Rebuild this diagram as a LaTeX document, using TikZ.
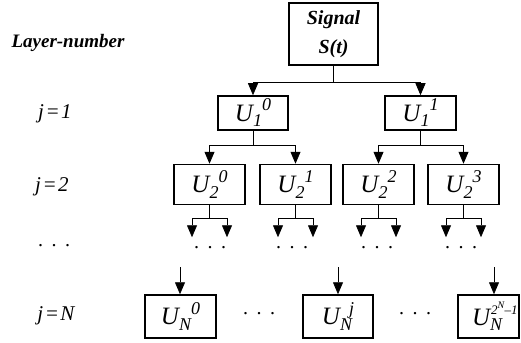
\documentclass[tikz,border=0pt]{standalone}
\usepackage{fontspec}
\setmainfont{Liberation Serif}
\usetikzlibrary{arrows.meta,calc}
\newcommand\bigU{\fontsize{25}{25}\selectfont\itshape U}
\newcommand\smallsz{\fontsize{18}{18}\selectfont\itshape}
% U with subscript then superscript to its right
\newcommand\Ucell[2]{{\bigU\raisebox{-0.22em}{\smallsz #1}\raisebox{0.42em}{\smallsz #2}}}
\newcommand\jlab[1]{{\fontsize{21}{21}\selectfont\itshape j\kern1.5pt=\kern1.5pt#1}}
\newcommand\tdots{{\fontsize{20}{20}\selectfont .\hspace{8.5pt}.\hspace{8.5pt}.}}
\begin{document}
\begin{tikzpicture}[x=1pt,y=-1pt,
  box/.style={draw, line width=1.5pt, inner sep=0pt, minimum width=71pt, minimum height=40pt},
  conn/.style={line width=0.8pt},
  arr/.style={conn, -{Triangle[length=12pt,width=10pt]}},
  lab/.style={inner sep=0pt}]
\useasboundingbox (0,0) rectangle (521,342);
% left labels
\node[lab] (ln) at (68,43) {\fontsize{19}{19}\selectfont\bfseries\itshape Layer-number};
\node[lab] (j1) at (55,114) {\jlab{1}};
\node[lab] (j2) at (52,187) {\jlab{2}};
\node[lab] (jd) at (54,246) {\tdots};
\node[lab] (jN) at (56,316) {\jlab{N}};
% boxes
\node[box, minimum width=89pt, minimum height=62pt, align=center,
      font=\fontsize{20}{29}\selectfont\bfseries\itshape] (sig) at (333.5,34) {Signal\\S(t)};
\node[box, minimum width=70pt, minimum height=34pt] (u10) at (253,113) {\Ucell{1}{0}};
\node[box, minimum width=71pt, minimum height=34pt] (u11) at (420.5,113) {\Ucell{1}{1}};
\node[box] (u20) at (209.5,184.5) {\Ucell{2}{0}};
\node[box] (u21) at (295.5,184.5) {\Ucell{2}{1}};
\node[box] (u22) at (378.5,184.5) {\Ucell{2}{2}};
\node[box] (u23) at (463.5,184.5) {\Ucell{2}{3}};
\node[box, minimum height=43pt] (uN0) at (180.5,316.5) {\Ucell{N}{0}};
\node[box, minimum height=43pt, minimum width=70pt] (uNj) at (338,316.5)
  {{\bigU\raisebox{-0.22em}{\smallsz N}\kern-3pt\raisebox{0.42em}{\smallsz j}}};
\node[box, minimum height=43pt, minimum width=61pt] (uNl) at (488.5,316.5)
  {\makebox[57pt][l]{\hspace{12pt}{\bigU\raisebox{-0.22em}{\smallsz N}\kern-11pt\raisebox{0.45em}{\fontsize{13}{13}\selectfont 2\raisebox{0.4em}{\fontsize{10}{10}\selectfont\itshape N}\kern0.5pt–1}}}};
% level 1 connectors
\draw[arr] (sig.south) -- ++(0,17) -| (u10.north);
\draw[arr] (sig.south) -- ++(0,17) -| (u11.north);
% level 2 connectors
\draw[arr] (u10.south) -- ++(0,15) -| (u20.north);
\draw[arr] (u10.south) -- ++(0,15) -| (u21.north);
\draw[arr] (u11.south) -- ++(0,15) -| (u22.north);
\draw[arr] (u11.south) -- ++(0,15) -| (u23.north);
% level 3 stubs
\foreach \b in {u20,u21,u22,u23}{
  \coordinate (\b-m) at ($(\b.south)+(0,13)$);
  \coordinate (\b-l) at ($(\b-m)+(-17.5,0)$);
  \coordinate (\b-r) at ($(\b-m)+(17.5,0)$);
  \coordinate (\b-lt) at ($(\b-l)+(0,19)$);
  \coordinate (\b-rt) at ($(\b-r)+(0,19)$);
  \draw[conn] (\b.south) -- (\b-m);
  \draw[arr] (\b-m) -| (\b-lt);
  \draw[arr] (\b-m) -| (\b-rt);
}
% dots under level 2
\node[lab] (d0) at (210,248) {\tdots};
\node[lab] (d1) at (292,248) {\tdots};
\node[lab] (d2) at (377,248) {\tdots};
\node[lab] (d3) at (461,248) {\tdots};
% bottom arrows
\coordinate (a0) at (180,267);
\coordinate (aj) at (338,267);
\coordinate (al) at (494,267);
\draw[arr] (a0) -- (a0 |- uN0.north);
\draw[arr] (aj) -- (aj |- uNj.north);
\draw[arr] (al) -- (al |- uNl.north);
% bottom dots
\node[lab] (bd1) at (259,314) {\tdots};
\node[lab] (bd2) at (415,314) {\tdots};
\end{tikzpicture}
\end{document}
